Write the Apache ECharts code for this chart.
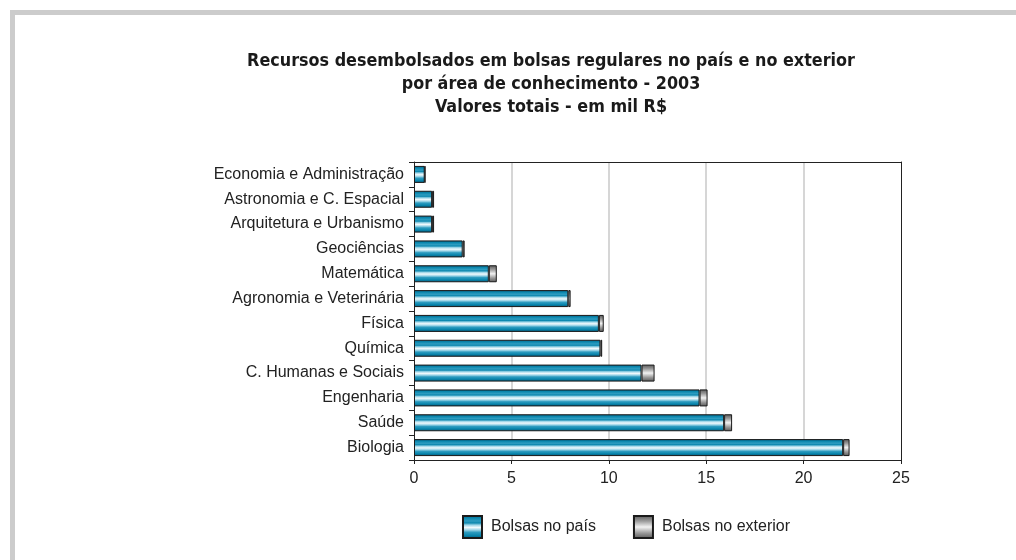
<!DOCTYPE html>
<html>
<head>
<meta charset="utf-8">
<script src="https://cdn.jsdelivr.net/npm/echarts@6/dist/echarts.min.js"></script>
<style>
  html, body { margin: 0; padding: 0; background: #fff; }
  #frame { position: absolute; left: 10px; top: 10px; width: 1006px; height: 550px; border-left: 5px solid #cccccc; border-top: 5px solid #cccccc; box-sizing: border-box; }
  #chart { position: absolute; left: 0; top: 0; width: 1016px; height: 560px; }
</style>
</head>
<body>
<div id="frame"></div>
<div id="chart"></div>
<script>
const categories = [
  "Economia e Administração",
  "Astronomia e C. Espacial",
  "Arquitetura e Urbanismo",
  "Geociências",
  "Matemática",
  "Agronomia e Veterinária",
  "Física",
  "Química",
  "C. Humanas e Sociais",
  "Engenharia",
  "Saúde",
  "Biologia"
];
const bolsasPais = [0.55, 0.93, 0.93, 2.5, 3.84, 7.92, 9.49, 9.57, 11.68, 14.66, 15.92, 22.03];
const bolsasExterior = [0.03, 0.1, 0.1, 0.1, 0.41, 0.12, 0.25, 0.09, 0.67, 0.41, 0.41, 0.33];
const xTicks = [0, 5, 10, 15, 20, 25];
const titleLines = [
  "Recursos desembolsados em bolsas regulares no país e no exterior",
  "por área de conhecimento - 2003",
  "Valores totais - em mil R$"
];

const blueGrad = new echarts.graphic.LinearGradient(0, 0, 0, 1, [
  { offset: 0, color: '#03587a' },
  { offset: 0.12, color: '#0a86ad' },
  { offset: 0.25, color: '#2e9cc0' },
  { offset: 0.33, color: '#0d88af' },
  { offset: 0.42, color: '#9fd6e8' },
  { offset: 0.52, color: '#f2fafd' },
  { offset: 0.62, color: '#9fd6e8' },
  { offset: 0.72, color: '#2e9cc0' },
  { offset: 0.85, color: '#0a86ad' },
  { offset: 1, color: '#03587a' }
]);
const grayGrad = new echarts.graphic.LinearGradient(0, 0, 0, 1, [
  { offset: 0, color: '#555555' },
  { offset: 0.25, color: '#9a9a9a' },
  { offset: 0.5, color: '#f2f2f2' },
  { offset: 0.75, color: '#9a9a9a' },
  { offset: 1, color: '#555555' }
]);
const labelFont = { fontFamily: 'Liberation Sans', fontSize: 16, color: '#222' };

const chart = echarts.init(document.getElementById('chart'));
chart.setOption({
  animation: false,
  title: {
    text: titleLines.join('\n'),
    left: 546,
    textAlign: 'center',
    top: 45,
    textStyle: {
      fontFamily: 'DejaVu Sans Condensed',
      fontWeight: 'bold',
      fontSize: 17.8,
      lineHeight: 23,
      color: '#1a1a1a'
    }
  },
  legend: {
    top: 510,
    left: 457,
    itemWidth: 19,
    itemHeight: 22,
    itemGap: 37,
    icon: 'rect',
    textStyle: Object.assign({ padding: [0, 0, 0, 4] }, labelFont),
    data: ['Bolsas no país', 'Bolsas no exterior']
  },
  grid: {
    left: 414,
    right: 115,
    top: 162,
    bottom: 100,
    show: false,
    containLabel: false
  },
  xAxis: [{
    type: 'value',
    min: xTicks[0],
    max: xTicks[xTicks.length - 1],
    interval: 5,
    axisLine: { show: true, lineStyle: { color: '#222', width: 1 } },
    axisTick: { show: true, length: 4, lineStyle: { color: '#222' } },
    axisLabel: Object.assign({ margin: 11 }, labelFont),
    splitLine: { show: true, showMinLine: false, showMaxLine: false, lineStyle: { color: '#d6d6d6', width: 2 } }
  }, {
    type: 'value',
    position: 'top',
    min: xTicks[0],
    max: xTicks[xTicks.length - 1],
    interval: 5,
    axisLine: { show: true, onZero: false, lineStyle: { color: '#222', width: 1 } },
    axisTick: { show: false },
    axisLabel: { show: false },
    splitLine: { show: false }
  }],
  yAxis: [{
    type: 'category',
    data: categories,
    inverse: true,
    axisLine: { show: true, lineStyle: { color: '#222', width: 1 } },
    axisTick: { show: true, length: 5, lineStyle: { color: '#222' } },
    axisLabel: Object.assign({ margin: 10 }, labelFont)
  }, {
    type: 'category',
    data: categories,
    inverse: true,
    position: 'right',
    axisLine: { show: true, onZero: false, lineStyle: { color: '#222', width: 1 } },
    axisTick: { show: false },
    axisLabel: { show: false },
    splitLine: { show: false }
  }],
  series: [
    {
      name: 'Bolsas no país',
      type: 'bar',
      stack: 'total',
      barWidth: 17,
      data: bolsasPais,
      itemStyle: { color: blueGrad, borderColor: '#1a1a1a', borderWidth: 1 }
    },
    {
      name: 'Bolsas no exterior',
      type: 'bar',
      stack: 'total',
      barWidth: 17,
      data: bolsasExterior,
      itemStyle: { color: grayGrad, borderColor: '#1a1a1a', borderWidth: 1 }
    }
  ]
});
</script>
</body>
</html>
